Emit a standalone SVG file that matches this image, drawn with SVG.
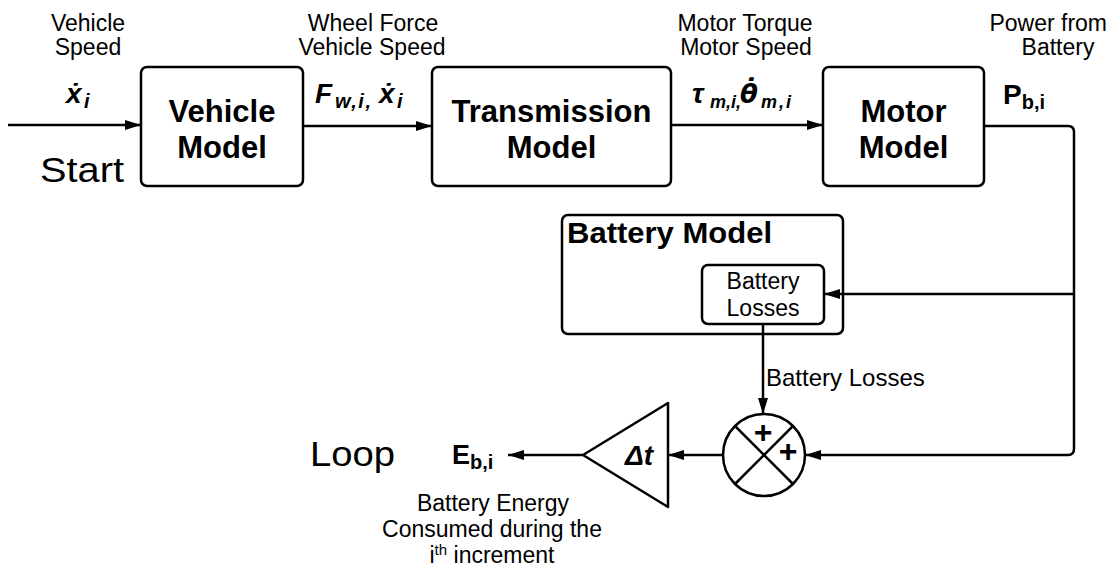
<svg xmlns="http://www.w3.org/2000/svg" width="1110" height="584" viewBox="0 0 1110 584">
<defs>
<style>
.box{fill:#fff;stroke:#000;stroke-width:2.5}
.ln{fill:none;stroke:#000;stroke-width:2.5}
.lab{font-family:"Liberation Sans",Arial,sans-serif;font-size:23px;fill:#000}
.big{font-family:"Liberation Sans",Arial,sans-serif;font-size:35px;fill:#000}
.bl{font-family:"Liberation Sans",Arial,sans-serif;font-size:31px;font-weight:bold;fill:#000;text-anchor:middle}
.math{font-family:"Liberation Sans",Arial,sans-serif;font-size:28px;font-weight:bold;font-style:italic;fill:#000}
.sub{font-size:20px}
.mid{text-anchor:middle}
.plus{font-family:"Liberation Sans",Arial,sans-serif;font-size:32px;font-weight:bold;text-anchor:middle;fill:#000}
</style>
<marker id="ah" viewBox="0 0 16 10" refX="16" refY="5" markerWidth="16" markerHeight="10" orient="auto" markerUnits="userSpaceOnUse"><path d="M0,0 L16,5 L0,10 z" fill="#000"/></marker>
</defs>
<rect width="1110" height="584" fill="#fff"/>

<g id="vehicle-model">
<rect class="box" x="141" y="67" width="162" height="119" rx="6"/>
<text class="bl" x="222" y="122">Vehicle</text>
<text class="bl" x="222" y="158">Model</text>
</g>

<g id="transmission-model">
<rect class="box" x="432" y="67" width="239" height="119" rx="6"/>
<text class="bl" x="551.5" y="122">Transmission</text>
<text class="bl" x="551.5" y="158">Model</text>
</g>

<g id="motor-model">
<rect class="box" x="823" y="67" width="161" height="119" rx="6"/>
<text class="bl" x="903.5" y="122">Motor</text>
<text class="bl" x="903.5" y="158">Model</text>
</g>

<g id="battery-model">
<rect class="box" x="562" y="215" width="281" height="119" rx="6"/>
<text class="bl" x="567" y="243" style="text-anchor:start;font-size:30px" textLength="205" lengthAdjust="spacingAndGlyphs">Battery Model</text>
</g>

<g id="battery-losses">
<rect class="box" x="702" y="265" width="122" height="59" rx="6"/>
<text class="lab mid" x="763" y="289">Battery</text>
<text class="lab mid" x="763" y="316">Losses</text>
</g>

<g id="summer">
<circle class="box" cx="764" cy="455" r="41"/>
<path class="ln" d="M735,426 L793,484 M793,426 L735,484"/>
<text class="plus" x="763" y="443">+</text>
<text class="plus" x="788" y="462">+</text>
</g>

<g id="gain">
<path class="box" d="M668,403 L668,507 L583,455 Z" stroke-linejoin="round"/>
<text class="math mid" x="639" y="465">Δt</text>
</g>

<g id="connectors">
<path class="ln" d="M8,125 H141" marker-end="url(#ah)"/>
<path class="ln" d="M303,126 H432" marker-end="url(#ah)"/>
<path class="ln" d="M671,125 H823" marker-end="url(#ah)"/>
<path class="ln" d="M984,126 H1068 Q1074,126 1074,132 V449 Q1074,455 1068,455 H805" marker-end="url(#ah)"/>
<path class="ln" d="M1074,294 H824" marker-end="url(#ah)"/>
<path class="ln" d="M763,324 V414" marker-end="url(#ah)"/>
<path class="ln" d="M723,455 H668" marker-end="url(#ah)"/>
<path class="ln" d="M583,455 H508" marker-end="url(#ah)"/>
</g>

<g id="labels">
<text class="lab mid" x="88" y="31">Vehicle</text>
<text class="lab mid" x="88" y="55">Speed</text>
<text class="math" x="66" y="103">ẋ<tspan class="sub" x="84" dy="5">i</tspan></text>
<text class="big" x="40" y="182" textLength="84" lengthAdjust="spacingAndGlyphs">Start</text>

<text class="lab mid" x="373" y="31">Wheel Force</text>
<text class="lab mid" x="372" y="55">Vehicle Speed</text>
<text class="math" x="315" y="103">F<tspan class="sub" x="335" dy="5" letter-spacing="1.5">w,i,</tspan><tspan x="379" dy="-5">ẋ</tspan><tspan class="sub" x="397" dy="5">i</tspan></text>

<text class="lab mid" x="745" y="31">Motor Torque</text>
<text class="lab mid" x="746" y="55">Motor Speed</text>
<text class="math" x="692" y="103">τ<tspan x="710" y="108" style="font-size:18px">m,i,</tspan><tspan x="740" y="103" style="font-family:'DejaVu Sans',sans-serif;font-size:26px">θ̇</tspan><tspan x="761" y="108" style="font-size:18px" letter-spacing="2">m,i</tspan></text>

<text class="lab" x="1107" y="31" style="text-anchor:end">Power from</text>
<text class="lab mid" x="1058" y="55">Battery</text>
<text class="math" x="1003" y="104" style="font-style:normal">P<tspan class="sub" dy="5">b,i</tspan></text>

<text class="lab" x="766" y="386" style="font-size:24px">Battery Losses</text>

<text class="big" x="310" y="466" textLength="85" lengthAdjust="spacingAndGlyphs">Loop</text>
<text class="math" x="452" y="464" style="font-style:normal;font-size:27px">E<tspan class="sub" dy="5">b,i</tspan></text>
<text class="lab mid" x="493" y="511">Battery Energy</text>
<text class="lab mid" x="492" y="537">Consumed during the</text>
<text class="lab mid" x="492" y="563">i<tspan font-size="15" dy="-8">th</tspan><tspan dy="8"> increment</tspan></text>
</g>
</svg>
